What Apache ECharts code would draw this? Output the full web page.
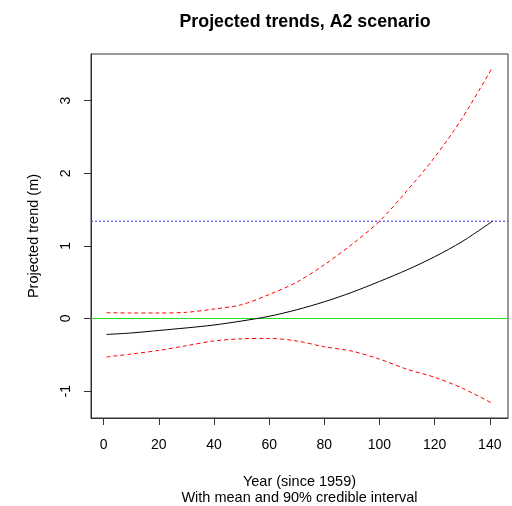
<!DOCTYPE html>
<html lang="en">
<head>
  <meta charset="UTF-8">
  <title>Projected trends, A2 scenario</title>
  <style>
    html, body { margin: 0; padding: 0; background: #fff; }
    #chart { width: 512px; height: 506px; }
  </style>
</head>
<body>
  <div id="chart"></div>
  <script src="https://cdn.jsdelivr.net/npm/echarts@6/dist/echarts.min.js"></script>
  <script>
    // values
    var years = [1, 10, 20, 30, 40, 50, 60, 70, 80, 90, 100, 110, 120, 130, 141]
    var meanVals = [-0.22, -0.20, -0.165, -0.13, -0.09, -0.035, 0.03, 0.12, 0.23, 0.36, 0.51, 0.67, 0.85, 1.06, 1.34]
    var upperVals = [0.08, 0.075, 0.075, 0.085, 0.13, 0.19, 0.33, 0.50, 0.74, 1.02, 1.34, 1.76, 2.22, 2.76, 3.46]
    var lowerVals = [-0.53, -0.49, -0.44, -0.375, -0.31, -0.28, -0.275, -0.31, -0.39, -0.45, -0.56, -0.70, -0.81, -0.96, -1.17]
    var xTicks = [0, 20, 40, 60, 80, 100, 120, 140]
    var yTicks = [-1, 0, 1, 2, 3]
    var zeroLine = 0
    var meanEnd = 1.34
    var xRange = [-4.6, 146.6]
    var yRange = [-1.371, 3.643]

    function pairs(ys) {
      var res = []
      for (let i = 0; i < years.length; i++) res.push([years[i], ys[i]])
      return res
    }

    // horizontal reference line spanning the whole x range
    function hline(value, color, type) {
      return {
        type: 'line', symbol: 'none', silent: true,
        data: [[xRange[0], value], [xRange[1], value]],
        itemStyle: { color: color },
        lineStyle: { color: color, width: 1, type: type }
      }
    }

    let chart = echarts.init(document.getElementById('chart'))
    var font = 'Liberation Sans, Arial, sans-serif'
    option = {
      animation: false,
      backgroundColor: '#fff',
      title: {
        text: 'Projected trends, A2 scenario',
        left: 300,
        textAlign: 'center',
        top: 8,
        textStyle: { fontFamily: font, fontSize: 17.8, fontWeight: 'bold', color: '#000' }
      },
      grid: {
        left: 91, right: 4, top: 54, bottom: 88,
        outerBoundsMode: 'none',
        containLabel: false,
        show: true, borderColor: '#333', borderWidth: 1
      },
      xAxis: {
        type: 'value',
        min: xRange[0], max: xRange[1],
        name: 'Year (since 1959)\nWith mean and 90% credible interval',
        nameLocation: 'middle',
        nameGap: 56,
        nameTextStyle: { fontFamily: font, fontSize: 14.5, color: '#000', lineHeight: 16 },
        axisLine: { show: true, onZero: false, lineStyle: { color: '#333' } },
        splitLine: { show: false },
        axisTick: { show: true, length: 7, customValues: xTicks, lineStyle: { color: '#333' } },
        axisLabel: { customValues: xTicks, margin: 20, fontFamily: font, fontSize: 14, color: '#000' }
      },
      yAxis: {
        type: 'value',
        min: yRange[0], max: yRange[1],
        name: 'Projected trend (m)',
        nameLocation: 'middle',
        nameGap: 50,
        nameTextStyle: { fontFamily: font, fontSize: 14.5, color: '#000' },
        axisLine: { show: true, onZero: false, lineStyle: { color: '#333' } },
        splitLine: { show: false },
        axisTick: { show: true, length: 7, customValues: yTicks, lineStyle: { color: '#333' } },
        axisLabel: { customValues: yTicks, rotate: 90, margin: 18, fontFamily: font, fontSize: 14, color: '#000' }
      },
      series: [
        hline(zeroLine, '#22dd22', 'solid'),
        hline(meanEnd, '#2a2aff', [2, 2]),
        {
          type: 'line', data: pairs(meanVals), smooth: 0.3, symbol: 'none', z: 3,
          lineStyle: { color: '#000', width: 1 }
        },
        {
          type: 'line', data: pairs(upperVals), smooth: 0.3, symbol: 'none',
          lineStyle: { color: '#ff0000', width: 1, type: [4, 3] }
        },
        {
          type: 'line', data: pairs(lowerVals), smooth: 0.3, symbol: 'none',
          lineStyle: { color: '#ff0000', width: 1, type: [4, 3] }
        }
      ]
    }
    chart.setOption(option)
  </script>
</body>
</html>
